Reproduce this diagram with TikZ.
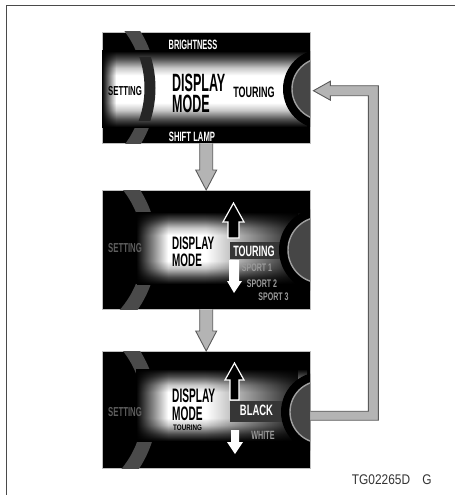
\documentclass[tikz,border=0pt]{standalone}
\usepackage{fontspec}
\setmainfont{Liberation Sans}
\usepackage{graphicx}
\usetikzlibrary{calc,fadings}
\definecolor{arrowgray}{HTML}{B4B4B4}
\definecolor{arrowline}{HTML}{5A5A5A}
\definecolor{framegray}{HTML}{4A4A4A}
\definecolor{ringgray}{HTML}{4A4A4A}
\definecolor{dimtext}{HTML}{5E5E5E}
\definecolor{sporttext}{HTML}{9A9A9A}
\definecolor{discgray}{HTML}{464646}
\definecolor{bandgray}{HTML}{363636}
\pgfdeclareverticalshading{glowv}{100bp}{color(0bp)=(black); color(25bp)=(black); color(30bp)=(black!70); color(36bp)=(black!22); color(41bp)=(white); color(59bp)=(white); color(64bp)=(black!22); color(70bp)=(black!70); color(75bp)=(black); color(100bp)=(black)}
\tikzfading[name=fadeL, left color=transparent!0, right color=transparent!100]
\tikzfading[name=fadeR, left color=transparent!100, right color=transparent!12]
\newcommand{\ct}[3]{{\fontsize{#2}{#2}\selectfont\bfseries\scalebox{#1}[1]{#3}}}
\newcommand{\ctr}[3]{{\fontsize{#2}{#2}\selectfont\scalebox{#1}[1]{#3}}}
\newcommand{\disc}[3]{%
  \fill[black] (#1,#2) circle[radius=#3+9];
  \fill[discgray] (#1,#2) circle[radius=#3];
  \draw[gray!75, line width=1.4pt] (#1,#2) circle[radius=#3];}
\begin{document}
\begin{tikzpicture}[x=1pt,y=-1pt,
  panel/.style={draw=gray!50, line width=0.4pt, fill=black, inner sep=0pt, minimum width=208pt, anchor=north west},
  blockfill/.style={fill=arrowgray},
  blockline/.style={draw=arrowline, line width=0.9pt, line join=miter},
  txt/.style={inner sep=0pt, text=white},
  dark/.style={inner sep=0pt, text=black},
  upar/.style={fill=black, draw=white, line width=1.2pt, line join=miter},
  downar/.style={fill=white}]
\useasboundingbox (0,0) rectangle (455,495);
\draw[framegray, line width=1.2pt] (6.5,495) -- (6.5,5.5) -- (455,5.5);

% ---------- panel 1 ----------
\node[panel, minimum height=111pt] (p1) at (102,32) {};
\begin{scope}[shift={(p1.north west)}]
  \begin{scope}
    \clip (0,0) rectangle (208,111);
    \draw[ringgray, line width=13pt] (-53,56) circle[radius=101];
    \shade[shading=glowv] (-5,19) rectangle (205,95);
    \fill[black, path fading=fadeL] (0,19) rectangle (14,95);
    \begin{scope}
      \clip (0,26) rectangle (208,88);
      \draw[black!85, line width=11pt] (-53,56) circle[radius=101];
    \end{scope}
    \disc{221}{57}{31}
  \end{scope}
  \node[txt] (bright) at (91,13) {\ct{0.55}{13.5}{BRIGHTNESS}};
  \node[txt] (shift) at (90,105) {\ct{0.57}{13.5}{SHIFT LAMP}};
  \node[dark] (set1) at (23,59) {\ct{0.6}{13}{SETTING}};
  \node[dark, anchor=base west, align=left, font=\fontsize{25}{21}\selectfont\bfseries] (disp1) at (70,80) {\scalebox{0.5}[1]{DISPLAY}\\\scalebox{0.5}[1]{MODE}};
  \node[dark] (tour1) at (152,60) {\ct{0.6}{15}{TOURING}};
\end{scope}

% ---------- panel 2 ----------
\node[panel, minimum height=119pt] (p2) at (102,190) {};
\begin{scope}[shift={(p2.north west)}]
  \begin{scope}
    \clip (0,0) rectangle (208,119);
    \draw[ringgray, line width=14pt] (-53,58) circle[radius=101];
    \shade[shading=glowv] (35,22) rectangle (205,94);
    \fill[black, path fading=fadeL] (34,22) rectangle (66,94);
    \fill[black, path fading=fadeR] (104,22) rectangle (196,94);
    \fill[bandgray] (128,52) rectangle (186,69);
    \disc{219}{60}{33}
  \end{scope}
  \node[inner sep=0pt, text=dimtext] (set2) at (23,58) {\ct{0.6}{13}{SETTING}};
  \node[dark, anchor=base west, align=left, font=\fontsize{18}{17}\selectfont\bfseries] (disp2) at (70,76) {\scalebox{0.55}[1]{DISPLAY}\\\scalebox{0.55}[1]{MODE}};
  \draw[upar] (126,48) -- (126,32) -- (121,32) -- (131.5,13) -- (142,32) -- (137,32) -- (137,48) -- cycle;
  \fill[downar] (127,70) -- (127,91) -- (125,91) -- (132,103) -- (140,91) -- (137,91) -- (137,70) -- cycle;
  \node[txt] (tour2) at (152,61) {\ct{0.6}{15}{TOURING}};
  \node[inner sep=0pt, text=sporttext] (sp1) at (155,77.5) {\ct{0.64}{11}{SPORT 1}};
  \node[inner sep=0pt, text=sporttext] (sp2) at (160,93.5) {\ct{0.64}{11}{SPORT 2}};
  \node[inner sep=0pt, text=sporttext] (sp3) at (171.5,107) {\ct{0.64}{11}{SPORT 3}};
\end{scope}

% ---------- panel 3 ----------
\node[panel, minimum height=117pt] (p3) at (102,351) {};
\begin{scope}[shift={(p3.north west)}]
  \begin{scope}
    \clip (0,0) rectangle (208,117);
    \draw[ringgray, line width=14pt] (-53,58) circle[radius=101];
    \shade[shading=glowv] (35,18) rectangle (205,90);
    \fill[black, path fading=fadeL] (34,18) rectangle (66,90);
    \fill[black, path fading=fadeR] (104,18) rectangle (196,90);
    \fill[bandgray] (128,50) rectangle (186,71);
    \disc{219}{61}{31}
  \end{scope}
  \node[inner sep=0pt, text=dimtext] (set3) at (23,61) {\ct{0.6}{13}{SETTING}};
  \node[dark, anchor=base west, align=left, font=\fontsize{19.5}{17.5}\selectfont\bfseries] (disp3) at (70,69) {\scalebox{0.52}[1]{DISPLAY}\\\scalebox{0.52}[1]{MODE}};
  \node[dark, anchor=base west] (tour3) at (71,79) {\ct{0.78}{8}{TOURING}};
  \draw[upar] (128,49) -- (128,29) -- (123,29) -- (132.5,12) -- (142,29) -- (137,29) -- (137,49) -- cycle;
  \fill[downar] (129,79) -- (129,91) -- (125,91) -- (133,103) -- (141,91) -- (137,91) -- (137,79) -- cycle;
  \node[txt] (black) at (154.5,59.5) {\ct{0.63}{15}{BLACK}};
  \node[inner sep=0pt, text=sporttext] (white) at (161,84) {\ct{0.6}{12}{WHITE}};
\end{scope}

% ---------- connectors ----------
\fill[blockfill] ($(p1.south)+(-6.5,0)$) -- ($(p2.north)+(-6.5,-20)$) -- ($(p2.north)+(-10.5,-20)$) -- (p2.north) -- ($(p2.north)+(10.5,-20)$) -- ($(p2.north)+(6.5,-20)$) -- ($(p1.south)+(6.5,0)$) -- cycle;
\draw[blockline] ($(p1.south)+(-6.5,0)$) -- ($(p2.north)+(-6.5,-20)$) -- ($(p2.north)+(-10.5,-20)$) -- (p2.north) -- ($(p2.north)+(10.5,-20)$) -- ($(p2.north)+(6.5,-20)$) -- ($(p1.south)+(6.5,0)$);
\fill[blockfill] ($(p2.south)+(-6.5,0)$) -- ($(p3.north)+(-6.5,-20)$) -- ($(p3.north)+(-10.5,-20)$) -- (p3.north) -- ($(p3.north)+(10.5,-20)$) -- ($(p3.north)+(6.5,-20)$) -- ($(p2.south)+(6.5,0)$) -- cycle;
\draw[blockline] ($(p2.south)+(-6.5,0)$) -- ($(p3.north)+(-6.5,-20)$) -- ($(p3.north)+(-10.5,-20)$) -- (p3.north) -- ($(p3.north)+(10.5,-20)$) -- ($(p3.north)+(6.5,-20)$) -- ($(p2.south)+(6.5,0)$);

\fill[blockfill] ($(p3.east)+(0,10.5)$) -- ($(p3.east)+(68,10.5)$) |- ($(p1.east)+(20,-2)$) -- ($(p1.east)+(20,-6.5)$) -- ($(p1.east)+(3,3)$) -- ($(p1.east)+(20,12.5)$) -- ($(p1.east)+(20,8)$) -- ($(p1.east)+(58,8)$) |- ($(p3.east)+(0,1.5)$) -- cycle;
\draw[blockline] ($(p3.east)+(0,10.5)$) -- ($(p3.east)+(68,10.5)$) |- ($(p1.east)+(20,-2)$) -- ($(p1.east)+(20,-6.5)$) -- ($(p1.east)+(3,3)$) -- ($(p1.east)+(20,12.5)$) -- ($(p1.east)+(20,8)$) -- ($(p1.east)+(58,8)$) |- ($(p3.east)+(0,1.5)$);

% ---------- figure code ----------
\node[inner sep=0pt, text=black!80] (code) at (381,480) {\ctr{0.85}{14}{TG02265D}};
\node[inner sep=0pt, text=black!80] (grade) at (427,480) {\ctr{0.85}{14}{G}};
\end{tikzpicture}
\end{document}
